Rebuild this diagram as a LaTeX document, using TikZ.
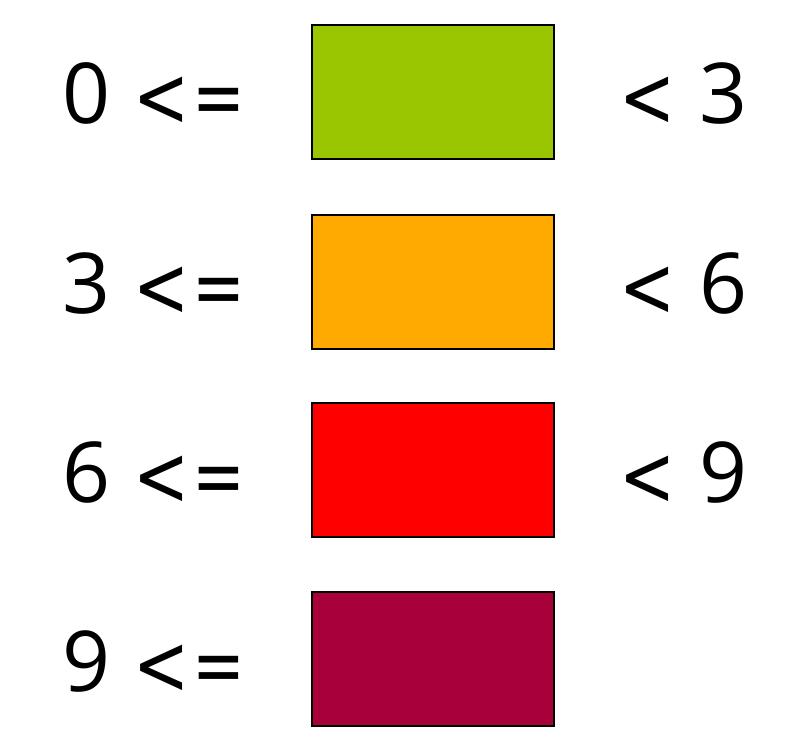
\documentclass[tikz,border=0pt]{standalone}
\usepackage{graphicx}
\usepackage{fontspec}
\setmainfont{Open Sans}
\newfontfamily\symfont{DejaVu Sans}
\definecolor{cgreen}{HTML}{99C600}
\definecolor{corange}{HTML}{FFAA00}
\definecolor{cred}{HTML}{FF0000}
\definecolor{cmaroon}{HTML}{A8003A}
\newcommand\mylt{\raisebox{-3.5pt}{\scalebox{1}[1.27]{\symfont\fontsize{67}{70}\selectfont<}}}
\newcommand\myeq{\raisebox{-2.5pt}{\scalebox{1}[1.3]{\symfont\fontsize{63}{70}\selectfont=}}}
\newcommand\myle{\mylt\hspace{3pt}\myeq}
\begin{document}
\begin{tikzpicture}[x=1pt,y=-1pt,
  swatch/.style={draw=black,line width=1.2pt,minimum width=242pt,minimum height=134pt,inner sep=0pt},
  lbl/.style={font=\fontsize{84}{90}\selectfont,inner sep=0pt}]
\useasboundingbox (0,0) rectangle (809,734);
\node[swatch,fill=cgreen] (b1) at (433,92) {};
\node[swatch,fill=corange] (b2) at (433,282) {};
\node[swatch,fill=cred] (b3) at (433,470) {};
\node[swatch,fill=cmaroon] (b4) at (433,659) {};
\node[lbl,anchor=base west] (l1) at (62,123) {0\hspace{23pt}\myle};
\node[lbl,anchor=base west] (l2) at (62,313) {3\hspace{23pt}\myle};
\node[lbl,anchor=base west] (l3) at (62,502) {6\hspace{23pt}\myle};
\node[lbl,anchor=base west] (l4) at (62,691) {9\hspace{23pt}\myle};
\node[lbl,anchor=base west] (r1) at (619,123) {\mylt\hspace{24pt}3};
\node[lbl,anchor=base west] (r2) at (619,313) {\mylt\hspace{24pt}6};
\node[lbl,anchor=base west] (r3) at (619,502) {\mylt\hspace{24pt}9};
\end{tikzpicture}
\end{document}
